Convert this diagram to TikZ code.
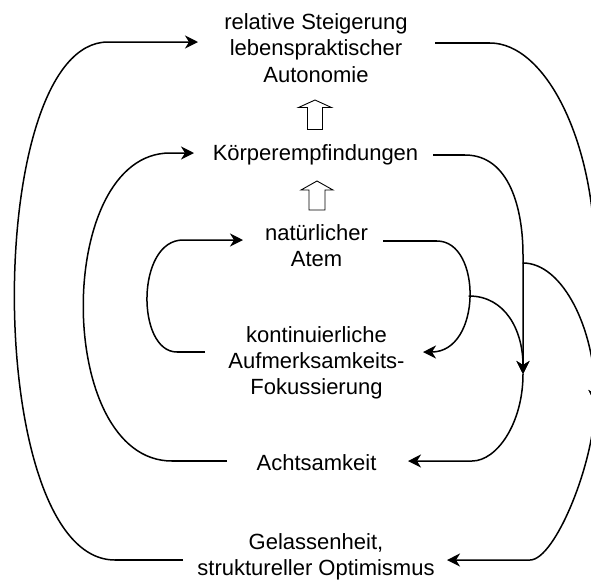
\documentclass[tikz,border=0pt]{standalone}
\usepackage{fontspec}
\setmainfont{Liberation Sans}
\usetikzlibrary{arrows.meta}
\tikzset{
  lbl/.style={font=\fontsize{22}{26.4}\selectfont, align=center, inner sep=0pt, anchor=base},
  conn/.style={line width=1.5pt, line cap=round},
  stub/.style={line width=2.6pt},
  tip/.style={-{Stealth[length=13pt,width=13pt,inset=4pt]}},
  blockarrow/.style={draw, line width=0.9pt, fill=white, line join=miter}
}
\begin{document}
\begin{tikzpicture}[x=1pt,y=-1pt]
\useasboundingbox (0,0) rectangle (591,579);
\fill[white] (0,0) rectangle (591,579);
\clip (0,0) rectangle (591,579);

% text nodes (base anchor = baseline of the last line)
\node[lbl] (auto) at (316,82.3) {relative Steigerung\\lebenspraktischer\\Autonomie};
\node[lbl] (koerper) at (315.5,160) {Körperempfindungen};
\node[lbl] (atem) at (316.5,266.9) {natürlicher\\Atem};
\node[lbl] (fokus) at (316.5,394.8) {kontinuierliche\\Aufmerksamkeits-\\Fokussierung};
\node[lbl] (acht) at (316.5,470.5) {Achtsamkeit};
\node[lbl] (gelassen) at (316,575.5) {Gelassenheit,\\struktureller Optimismus};

% hollow block arrows
\draw[blockarrow] (307.5,129.5) -- (307.5,107.5) -- (298.5,107.5) -- (315,100) -- (331.5,107.5) -- (322.5,107.5) -- (322.5,129.5) -- cycle;
\draw[blockarrow] (309,210) -- (309,190) -- (301,190) -- (317,181) -- (333,190) -- (325,190) -- (325,210) -- cycle;

% named points
\coordinate (gL1) at (183,560);
\coordinate (gL2) at (115,560);
\coordinate (aL) at (108,42);
\coordinate (aIn) at (198,42);
\coordinate (cL1) at (227,461);
\coordinate (cL2) at (172,461);
\coordinate (kL) at (170,153);
\coordinate (kIn) at (194,153);
\coordinate (fL1) at (205,352);
\coordinate (fL2) at (177,352);
\coordinate (nL) at (183,240);
\coordinate (nIn) at (243,240);
\coordinate (nR1) at (383,241);
\coordinate (nR2) at (437,241);
\coordinate (fIn) at (423,352);
\coordinate (br1) at (469,296);
\coordinate (kR1) at (433,155);
\coordinate (kR2) at (465,155);
\coordinate (kV) at (523,255);
\coordinate (mid) at (523,374);
\coordinate (aC) at (472,461);
\coordinate (aCIn) at (408,461);
\coordinate (aR1) at (435,43);
\coordinate (aR2) at (490,43);
\coordinate (oV) at (595,260);
\coordinate (br2) at (523,263);
\coordinate (omid) at (595,403);
\coordinate (gC) at (530,560);
\coordinate (gIn) at (447,560);

% outer left loop: Gelassenheit -> Autonomie
\draw[stub] (gL1) -- (gL2);
\draw[conn,tip] (gL2) .. controls (-18,560) and (-18,42) .. (aL) -- (aIn);

% middle left loop: Achtsamkeit -> Koerperempfindungen
\draw[stub] (cL1) -- (cL2);
\draw[conn,tip] (cL2) .. controls (54,461) and (54,153) .. (kL) -- (kIn);

% inner left loop: Fokussierung -> Atem
\draw[stub] (fL1) -- (fL2);
\draw[conn,tip] (fL2) .. controls (136,352) and (136,240) .. (nL) -- (nIn);

% inner right loop: Atem -> Fokussierung
\draw[stub] (nR1) -- (nR2);
\draw[conn,tip] (nR2) .. controls (482,241) and (482,352) .. (fIn);
\draw[conn,tip] (br1) .. controls (505,296) and (523,330) .. (mid);

% Koerperempfindungen -> Achtsamkeit
\draw[stub] (kR1) -- (kR2);
\draw[conn,tip] (kR2) .. controls (510,155) and (523,210) .. (kV) -- (mid);
\draw[conn,tip] (mid) .. controls (523,423) and (497,461) .. (aC) -- (aCIn);

% Autonomie -> Gelassenheit
\draw[stub] (aR1) -- (aR2);
\draw[conn,tip] (aR2) .. controls (545,43) and (595,140) .. (oV) -- (omid);
\draw[conn,tip] (br2) .. controls (563,263) and (595,330) .. (omid);
\draw[conn,tip] (omid) .. controls (595,462) and (555,560) .. (gC) -- (gIn);
\end{tikzpicture}
\end{document}
